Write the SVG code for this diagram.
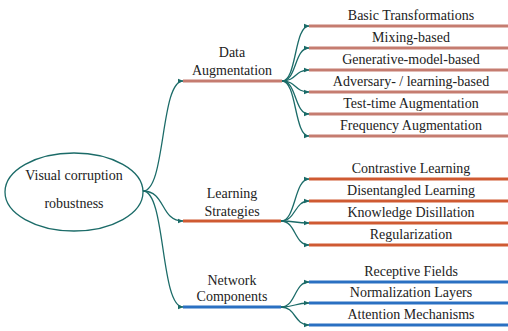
<svg xmlns="http://www.w3.org/2000/svg" width="508" height="331" viewBox="0 0 508 331">
  <style>
    text { font-size: 14px; fill: #222; text-anchor: middle; }
    .conn { fill: none; stroke: #1b6b68; stroke-width: 1.3; marker-end: url(#arr); }
    .da { stroke: #c57c70; stroke-width: 3; }
    .ls { stroke: #cf5a32; stroke-width: 3; }
    .nc { stroke: #2a70c2; stroke-width: 3; }
  </style>
  <defs>
    <marker id="arr" viewBox="0 0 10 10" refX="9" refY="5" markerWidth="6" markerHeight="6" markerUnits="userSpaceOnUse" orient="auto">
      <path d="M0,1 L10,5 L0,9 Z" fill="#1b6b68"/>
    </marker>
  </defs>

  <!-- connectors -->
  <g id="connectors">
    <!-- root to branches -->
    <path class="conn" d="M143,191 C166,191 160,81 183,81"/>
    <path class="conn" d="M143,191 C166,191 160,221 183,221"/>
    <path class="conn" d="M143,191 C166,191 160,307 183,307"/>
    <!-- Data Augmentation to leaves -->
    <path class="conn" d="M282,81 C297,81 294,26 309,26"/>
    <path class="conn" d="M282,81 C297,81 294,48 309,48"/>
    <path class="conn" d="M282,81 C297,81 294,70 309,70"/>
    <path class="conn" d="M282,81 C297,81 294,92 309,92"/>
    <path class="conn" d="M282,81 C297,81 294,114 309,114"/>
    <path class="conn" d="M282,81 C297,81 294,136 309,136"/>
    <!-- Learning Strategies to leaves -->
    <path class="conn" d="M281,221 C296,221 294,179 309,179"/>
    <path class="conn" d="M281,221 C296,221 294,201 309,201"/>
    <path class="conn" d="M281,221 C296,221 294,223 309,223"/>
    <path class="conn" d="M281,221 C296,221 294,245 309,245"/>
    <!-- Network Components to leaves -->
    <path class="conn" d="M281,307 C296,307 294,282 309,282"/>
    <path class="conn" d="M281,307 C296,307 294,303 309,303"/>
    <path class="conn" d="M281,307 C296,307 294,325 309,325"/>
  </g>

  <g font-family="'Liberation Serif', 'Times New Roman', 'DejaVu Serif', serif">
  <!-- root -->
  <g id="root">
    <ellipse cx="74" cy="192" rx="69" ry="39" fill="#fff" stroke="#1b6b68" stroke-width="1.3"/>
    <text x="74" y="180">Visual corruption</text>
    <text x="74" y="208">robustness</text>
  </g>

  <!-- branches -->
  <g id="data-augmentation">
    <line class="da" x1="183" y1="81" x2="282" y2="81"/>
    <text x="232" y="57">Data</text>
    <text x="232" y="75">Augmentation</text>
  </g>
  <g id="learning-strategies">
    <line class="ls" x1="183" y1="221" x2="281" y2="221"/>
    <text x="232" y="198">Learning</text>
    <text x="232" y="216">Strategies</text>
  </g>
  <g id="network-components">
    <line class="nc" x1="183" y1="307" x2="281" y2="307"/>
    <text x="232" y="285">Network</text>
    <text x="232" y="301">Components</text>
  </g>

  <!-- Data Augmentation leaves -->
  <g id="basic-transformations"><line class="da" x1="309" y1="26" x2="508" y2="26"/><text x="411" y="20">Basic Transformations</text></g>
  <g id="mixing-based"><line class="da" x1="309" y1="48" x2="508" y2="48"/><text x="411" y="42">Mixing-based</text></g>
  <g id="generative-model-based"><line class="da" x1="309" y1="70" x2="508" y2="70"/><text x="411" y="64">Generative-model-based</text></g>
  <g id="adversary-learning-based"><line class="da" x1="309" y1="92" x2="508" y2="92"/><text x="411" y="86">Adversary- / learning-based</text></g>
  <g id="test-time-augmentation"><line class="da" x1="309" y1="114" x2="508" y2="114"/><text x="411" y="108">Test-time Augmentation</text></g>
  <g id="frequency-augmentation"><line class="da" x1="309" y1="136" x2="508" y2="136"/><text x="411" y="130">Frequency Augmentation</text></g>

  <!-- Learning Strategies leaves -->
  <g id="contrastive-learning"><line class="ls" x1="309" y1="179" x2="508" y2="179"/><text x="411" y="173">Contrastive Learning</text></g>
  <g id="disentangled-learning"><line class="ls" x1="309" y1="201" x2="508" y2="201"/><text x="411" y="195">Disentangled Learning</text></g>
  <g id="knowledge-disillation"><line class="ls" x1="309" y1="223" x2="508" y2="223"/><text x="411" y="217">Knowledge Disillation</text></g>
  <g id="regularization"><line class="ls" x1="309" y1="245" x2="508" y2="245"/><text x="411" y="239">Regularization</text></g>

  <!-- Network Components leaves -->
  <g id="receptive-fields"><line class="nc" x1="309" y1="282" x2="508" y2="282"/><text x="411" y="276">Receptive Fields</text></g>
  <g id="normalization-layers"><line class="nc" x1="309" y1="303" x2="508" y2="303"/><text x="411" y="297">Normalization Layers</text></g>
  <g id="attention-mechanisms"><line class="nc" x1="309" y1="325" x2="508" y2="325"/><text x="411" y="319">Attention Mechanisms</text></g>
  </g>
</svg>
